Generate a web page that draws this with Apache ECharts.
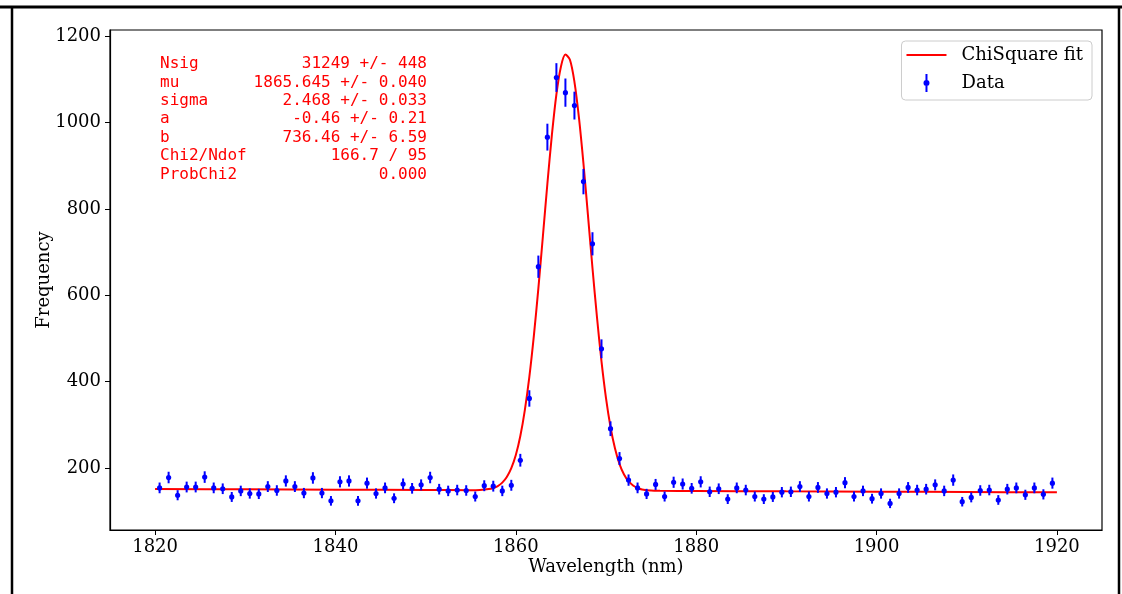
<!DOCTYPE html>
<html>
<head>
<meta charset="utf-8">
<script src="https://cdn.jsdelivr.net/npm/echarts@6/dist/echarts.min.js"></script>
<style>
  html, body { margin: 0; background: #fff; }
  #chart { width: 1122px; height: 594px; }
</style>
</head>
<body>
<div id="chart"></div>
<script>
// histogram: 1 nm bins, first bin centre 1820.5
var binStart = 1820.5
var counts = [
  154, 178, 137, 156, 156, 179, 154, 152, 133, 147,
  141, 140, 157, 148, 170, 157, 142, 177, 142, 124,
  168, 170, 124, 165, 141, 154, 130, 163, 153, 161,
  178, 151, 147, 149, 148, 134, 159, 158, 147, 160,
  218, 361, 666, 966, 1104, 1069, 1039, 863, 719, 476,
  291, 222, 172, 154, 140, 162, 134, 167, 163, 153,
  168, 145, 152, 128, 154, 149, 134, 128, 133, 144,
  145, 157, 134, 155, 141, 144, 166, 134, 147, 129,
  141, 118, 141, 155, 149, 151, 161, 147, 172, 122,
  132, 148, 149, 126, 151, 154, 138, 154, 139, 165
]

// fit curve
var fitX = [1820, 1830, 1840, 1850, 1855, 1856, 1857, 1857.5, 1858, 1858.5,
  1859, 1859.5, 1860, 1860.5, 1861, 1861.5, 1862, 1862.5, 1863, 1863.5,
  1864, 1864.5, 1865, 1865.5, 1866, 1866.5, 1867, 1867.5, 1868, 1868.5,
  1869, 1869.5, 1870, 1870.5, 1871, 1871.5, 1872, 1872.5, 1873, 1873.5,
  1874, 1875, 1876, 1880, 1890, 1900, 1910, 1920]
var fitY = [151.5, 150.7, 149.9, 149.2, 148.8, 149.3, 151.3, 153.8, 158.2, 166.1,
  179.1, 199.5, 230, 274, 334, 411, 506, 616, 736, 858,
  971, 1065, 1129, 1157, 1145, 1094, 1011, 905, 785, 663,
  549, 447, 362, 295, 245, 209, 185, 169.4, 159.6, 153.8,
  150.5, 147.7, 147.2, 146.8, 146.0, 145.3, 144.5, 143.7]

var xTicks = [1820, 1840, 1860, 1880, 1900, 1920]
var yTicks = [200, 400, 600, 800, 1000, 1200]

var statNames = ['Nsig', 'mu', 'sigma', 'a', 'b', 'Chi2/Ndof', 'ProbChi2']
var statValues = ['31249 +/- 448', '1865.645 +/- 0.040', '2.468 +/- 0.033',
  '-0.46 +/- 0.21', '736.46 +/- 6.59', '166.7 / 95', '0.000']

var serif = 'DejaVu Serif'
var mono = 'DejaVu Sans Mono'

// points with poisson errors
var dataPts = []
for (var i = 0; i < counts.length; i++) {
  dataPts.push([binStart + i, counts[i], Math.sqrt(counts[i])])
}
var fitPts = []
for (var j = 0; j < fitX.length; j++) {
  fitPts.push([fitX[j], fitY[j]])
}

// stats box text
var statGraphics = []
for (var k = 0; k < statNames.length; k++) {
  var yy = 64 + k * 18.4
  statGraphics.push({
    type: 'text', x: 160, y: yy,
    style: { text: statNames[k], fill: '#ff0000', font: '16px "' + mono + '"', align: 'left', verticalAlign: 'middle' }
  })
  statGraphics.push({
    type: 'text', x: 427, y: yy,
    style: { text: statValues[k], fill: '#ff0000', font: '16px "' + mono + '"', align: 'right', verticalAlign: 'middle' }
  })
}

function plain (v) { return String(v) }

var chart = echarts.init(document.getElementById('chart'))

var option = {
  animation: false,
  backgroundColor: '#fff',
  grid: {
    left: 110, right: 20, top: 30, bottom: 64,
    show: true, borderColor: '#000', borderWidth: 1.2, backgroundColor: 'transparent'
  },
  legend: {
    orient: 'vertical',
    right: 30, top: 41,
    itemWidth: 40, itemHeight: 18, itemGap: 10,
    padding: [5, 9, 8, 5],
    borderColor: '#cccccc', borderWidth: 1, borderRadius: 4,
    backgroundColor: '#fff',
    selectedMode: false,
    textStyle: { fontFamily: serif, fontSize: 18, color: '#000', padding: [0, 0, 0, 10] },
    data: [
      { name: 'ChiSquare fit', icon: 'path://M0,0 M40,18 M0,8 L40,8 L40,10 L0,10 Z' },
      { name: 'Data', icon: 'path://M0,0 M40,18 M19,0 L21,0 L21,18 L19,18 Z M20,6 A3,3 0 1,1 20,12 A3,3 0 1,1 20,6 Z' }
    ]
  },
  xAxis: {
    type: 'value',
    min: 1815, max: 1925,
    name: 'Wavelength (nm)',
    nameLocation: 'middle',
    nameGap: 28,
    nameMoveOverlap: false,
    nameTextStyle: { fontFamily: serif, fontSize: 18, color: '#000' },
    splitLine: { show: false },
    axisLine: { show: true, onZero: false, lineStyle: { color: '#000', width: 1.2 } },
    axisTick: { show: true, length: 5, customValues: xTicks, lineStyle: { color: '#000' } },
    axisLabel: { customValues: xTicks, formatter: plain, margin: 8, fontFamily: serif, fontSize: 18, color: '#000' }
  },
  yAxis: {
    type: 'value',
    min: 56.5, max: 1214,
    name: 'Frequency',
    nameLocation: 'middle',
    nameGap: 57,
    nameMoveOverlap: false,
    nameTextStyle: { fontFamily: serif, fontSize: 18, color: '#000' },
    splitLine: { show: false },
    axisLine: { show: true, lineStyle: { color: '#000', width: 1.2 } },
    axisTick: { show: true, length: 5, customValues: yTicks, lineStyle: { color: '#000' } },
    axisLabel: { customValues: yTicks, formatter: plain, margin: 9, fontFamily: serif, fontSize: 18, color: '#000' }
  },
  series: [
    {
      name: 'ChiSquare fit',
      type: 'line',
      data: fitPts,
      showSymbol: false,
      symbol: 'none',
      smooth: 0.3,
      lineStyle: { color: '#ff0000', width: 2 },
      itemStyle: { color: '#ff0000' },
      z: 2
    },
    {
      name: 'Data',
      type: 'custom',
      data: dataPts,
      itemStyle: { color: '#0000ff' },
      encode: { x: 0, y: 1 },
      z: 3,
      renderItem: function (params, api) {
        var x = api.value(0)
        var y = api.value(1)
        var e = api.value(2)
        var c = api.coord([x, y])
        var hi = api.coord([x, y + e])
        var lo = api.coord([x, y - e])
        return {
          type: 'group',
          children: [
            { type: 'line', shape: { x1: c[0], y1: hi[1], x2: c[0], y2: lo[1] }, style: { stroke: '#0000ff', lineWidth: 2 } },
            { type: 'circle', shape: { cx: c[0], cy: c[1], r: 2.6 }, style: { fill: '#0000ff' } }
          ]
        }
      }
    }
  ],
  graphic: [
    // outer frame of the figure
    { type: 'line', shape: { x1: 0, y1: 7, x2: 1122, y2: 7 }, style: { stroke: '#000', lineWidth: 3 } },
    { type: 'line', shape: { x1: 12, y1: 7, x2: 12, y2: 594 }, style: { stroke: '#000', lineWidth: 2.5 } },
    { type: 'line', shape: { x1: 1119, y1: 7, x2: 1119, y2: 594 }, style: { stroke: '#000', lineWidth: 2.5 } }
  ].concat(statGraphics)
}

chart.setOption(option)
</script>
</body>
</html>
